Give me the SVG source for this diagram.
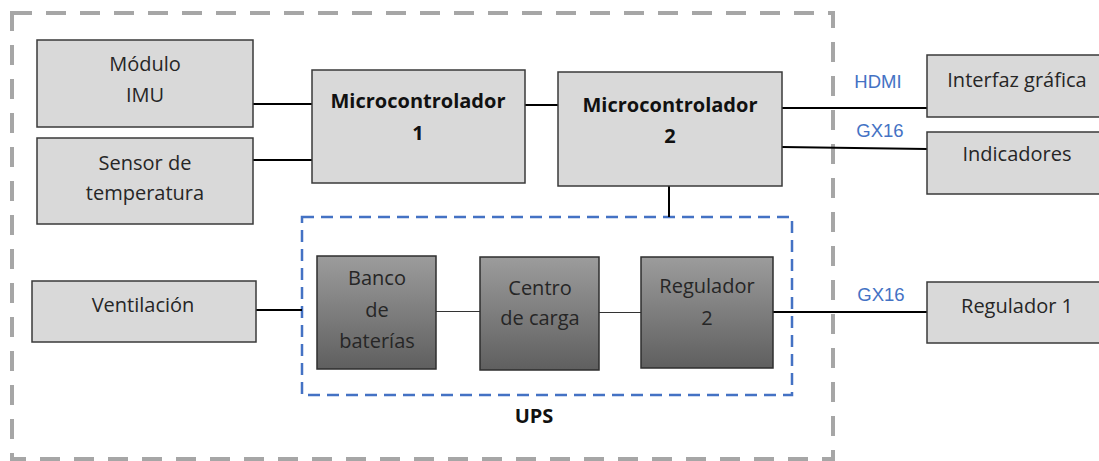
<svg xmlns="http://www.w3.org/2000/svg" width="1099" height="461" viewBox="0 0 1099 461">
<style>
.box{fill:#d9d9d9;stroke:#3a3a3a;stroke-width:1.5}
.ubox{fill:url(#ug);stroke:#2e2e2e;stroke-width:1.5}
.t{font-family:"Open Sans","Liberation Sans",sans-serif;font-size:20px;fill:#262626;text-anchor:middle}
.b{font-family:"Open Sans","Liberation Sans",sans-serif;font-size:20px;font-weight:bold;fill:#111;text-anchor:middle}
.lbl{font-family:"Liberation Sans",sans-serif;font-size:18.5px;fill:#4472c4;text-anchor:middle}
.w{stroke:#000;stroke-width:2;fill:none}
.thin{stroke:#333;stroke-width:1.2;fill:none}
</style>
<defs>
<linearGradient id="ug" x1="0" y1="0" x2="0" y2="1">
<stop offset="0" stop-color="#9c9c9c"/>
<stop offset="1" stop-color="#5f5f5f"/>
</linearGradient>
</defs>
<rect x="12" y="13" width="821" height="446" fill="none" stroke="#a6a6a6" stroke-width="4" stroke-dasharray="20 14"/>
<g id="ups-frame">
<rect x="302" y="217" width="490" height="178" fill="none" stroke="#4472c4" stroke-width="2.5" stroke-dasharray="12 7"/>
<text class="b" x="534" y="423">UPS</text>
</g>
<g id="connectors">
<line class="w" x1="253" y1="104" x2="312" y2="104"/>
<line class="w" x1="253" y1="160" x2="312" y2="160"/>
<line class="w" x1="525" y1="105" x2="558" y2="105"/>
<line class="w" x1="782" y1="108" x2="927" y2="108"/>
<line class="w" x1="782" y1="147" x2="927" y2="149"/>
<line class="w" x1="669" y1="186" x2="669" y2="217"/>
<line class="w" x1="256" y1="310" x2="302" y2="310"/>
<line class="thin" x1="436" y1="311.5" x2="480" y2="311.5"/>
<line class="thin" x1="599" y1="312.5" x2="641" y2="312.5"/>
<line class="w" x1="773" y1="312" x2="927" y2="312"/>
<text class="lbl" x="878" y="88">HDMI</text>
<text class="lbl" x="880" y="137">GX16</text>
<text class="lbl" x="881" y="301">GX16</text>
</g>
<g id="imu">
<rect class="box" x="37" y="40" width="216" height="87"/>
<text class="t" x="145" y="71">Módulo</text>
<text class="t" x="145" y="102">IMU</text>
</g>
<g id="sensor">
<rect class="box" x="37" y="138" width="216" height="86"/>
<text class="t" x="145" y="170">Sensor de</text>
<text class="t" x="145" y="200">temperatura</text>
</g>
<g id="micro1">
<rect class="box" x="312" y="70" width="213" height="113"/>
<text class="b" x="418" y="108">Microcontrolador</text>
<text class="b" x="418" y="140">1</text>
</g>
<g id="micro2">
<rect class="box" x="558" y="72" width="224" height="114"/>
<text class="b" x="670" y="112">Microcontrolador</text>
<text class="b" x="670" y="143">2</text>
</g>
<g id="interfaz">
<rect class="box" x="927" y="55" width="180" height="62"/>
<text class="t" x="1017" y="87">Interfaz gráfica</text>
</g>
<g id="indicadores">
<rect class="box" x="927" y="132" width="180" height="62"/>
<text class="t" x="1017" y="161">Indicadores</text>
</g>
<g id="regulador1">
<rect class="box" x="927" y="282" width="180" height="61"/>
<text class="t" x="1017" y="313">Regulador 1</text>
</g>
<g id="ventilacion">
<rect class="box" x="32" y="281" width="224" height="61"/>
<text class="t" x="143" y="312">Ventilación</text>
</g>
<g id="banco">
<rect class="ubox" x="317" y="256" width="119" height="113"/>
<text class="t" x="377" y="285">Banco</text>
<text class="t" x="377" y="317">de</text>
<text class="t" x="377" y="348">baterías</text>
</g>
<g id="centro">
<rect class="ubox" x="480" y="257" width="119" height="113"/>
<text class="t" x="540" y="295">Centro</text>
<text class="t" x="540" y="325">de carga</text>
</g>
<g id="regulador2">
<rect class="ubox" x="641" y="257" width="132" height="111"/>
<text class="t" x="707" y="293">Regulador</text>
<text class="t" x="707" y="325">2</text>
</g>
</svg>
